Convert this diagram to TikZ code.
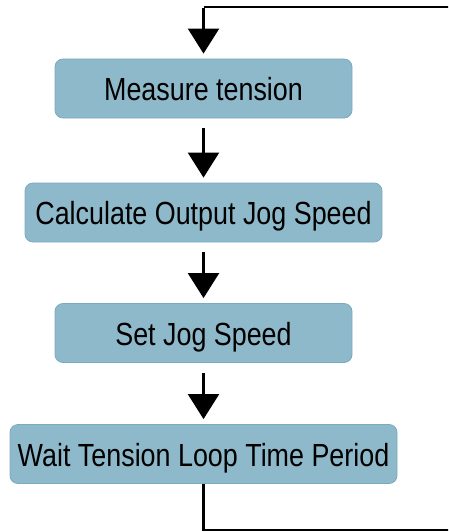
\documentclass[tikz,border=0pt]{standalone}
\usepackage{fontspec}
\setmainfont[FakeStretch=0.84]{Liberation Sans}
\usetikzlibrary{arrows.meta}

\definecolor{boxfill}{HTML}{8EB9CA}
\definecolor{boxline}{HTML}{7BAAC0}

\tikzset{
  stepbox/.style={draw=boxline, line width=0.8pt, fill=boxfill, rounded corners=8pt,
    minimum height=59pt, inner sep=0pt, text height=24pt, text depth=0pt,
    font=\fontsize{32}{36}\selectfont, text=black},
  flow/.style={line width=2.2pt, -{Triangle[width=31pt,length=25pt]}},
  loopline/.style={line width=2.2pt}
}

\begin{document}
\begin{tikzpicture}[x=1pt, y=-1pt]
  \useasboundingbox (0,0) rectangle (448,532);
  \clip (0,0) rectangle (448,532);

  \node[stepbox, minimum width=297pt] (b1) at (203.5,88.5) {Measure tension};
  \node[stepbox, minimum width=357pt] (b2) at (203.5,212.5) {Calculate Output Jog Speed};
  \node[stepbox, minimum width=297pt] (b3) at (203.5,333) {Set Jog Speed};
  \node[stepbox, minimum width=387pt] (b4) at (203.5,454) {Wait Tension Loop Time Period};

  \draw[flow, shorten <=10pt, shorten >=5pt] (b1) -- (b2);
  \draw[flow, shorten <=10pt, shorten >=5pt] (b2) -- (b3);
  \draw[flow, shorten <=10pt, shorten >=5pt] (b3) -- (b4);

  % feedback loop running off the right edge and back to the top
  \coordinate (lb) at (203.5,530);
  \coordinate (rb) at (475,530);
  \coordinate (rt) at (475,7);
  \coordinate (lt) at (203.5,7);
  \draw[loopline, line join=miter] (b4.south) -- (lb) -- (rb) -- (rt) -- (lt);
  \draw[flow, shorten >=5pt] ([yshift=-1.1pt]lt) -- (b1.north);
\end{tikzpicture}
\end{document}
